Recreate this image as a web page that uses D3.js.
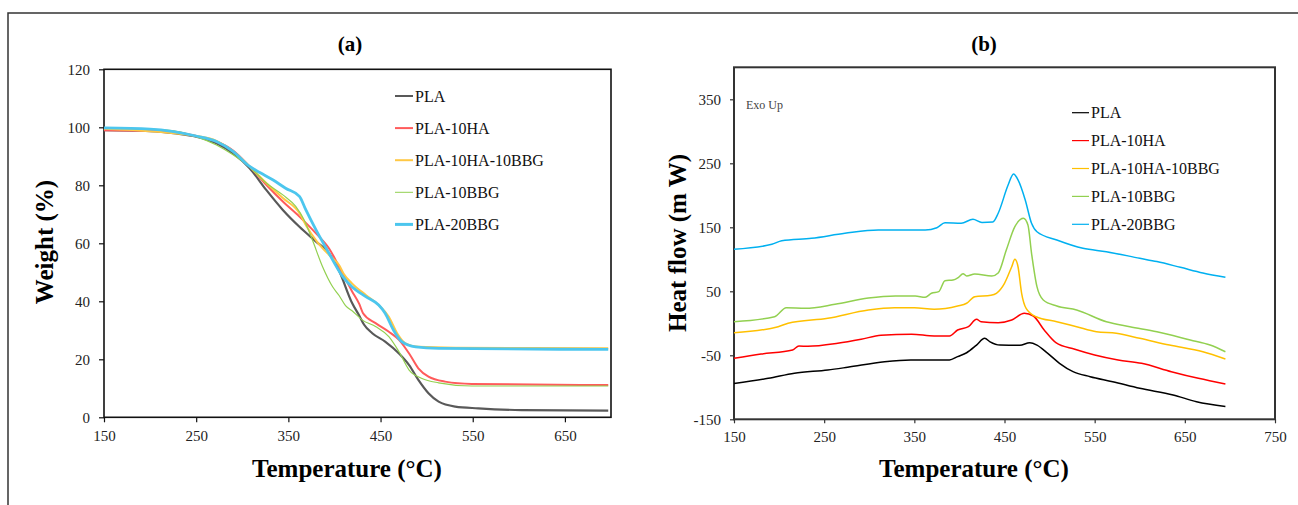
<!DOCTYPE html>
<html lang="en">
<head>
<meta charset="UTF-8">
<title>TGA and DSC</title>
<script src="https://d3js.org/d3.v7.min.js"></script>
<style>
  body { margin: 0; background: #fff; }
  text { font-family: "Liberation Serif", "Times New Roman", serif; }
</style>
</head>
<body>
<script>
// series names (both panels)
const seriesNames = ["PLA", "PLA-10HA", "PLA-10HA-10BBG", "PLA-10BBG", "PLA-20BBG"];

// (a) TGA: [temperature, weight %]
const tgaPLA = [[150,99],[200,98.7],[228,97.9],[250,96.8],[272,94.5],[290,91],[308,85.9],[326,78.4],[344,71.5],[362,65.7],[380,60.6],[394,56.6],[405,50.5],[419,39.5],[427,35],[432,32],[441,29],[455,26.1],[470,22],[481,18],[491,12.9],[502,8.3],[513,5.4],[531,3.7],[556,3.1],[603,2.5],[697,2.3]];
const tga10HA = [[150,99],[218,98.7],[250,97],[272,95.1],[290,92],[308,86.5],[326,80.2],[344,74.4],[362,69.2],[380,63.4],[394,58.3],[405,52],[419,43.5],[427,39],[431,35.9],[445,32.4],[459,29.5],[470,26.7],[481,22],[491,16.9],[502,14],[520,12.3],[549,11.5],[697,11.1]];
const tga10HA10BBG = [[150,99.5],[250,97],[272,95.3],[290,91.7],[308,86.5],[326,80.8],[344,75.6],[362,70.4],[370,65.7],[381,60.6],[396,55.4],[405,52.5],[410,49.5],[419,46.2],[434,42.2],[448,38.7],[459,34.7],[468,29],[477,25.5],[491,24.3],[531,24],[697,23.8]];
const tga10BBG = [[150,99.8],[218,99],[250,96.8],[272,93.9],[290,90.5],[308,86.3],[326,80.8],[344,76.7],[358,72.7],[367,68.1],[376,61.2],[387,52],[398,45],[405,42],[412,38.5],[420,36.5],[430,33.6],[445,31.2],[459,27.8],[470,22.6],[481,16.3],[495,13.4],[513,11.9],[549,10.8],[697,10.8]];
const tga20BBG = [[150,99.8],[200,99.4],[250,97],[272,95.1],[290,91.7],[308,86.5],[319,84.4],[333,81.9],[347,79],[362,76.2],[369,71.5],[380,64.6],[394,56.6],[409,48.5],[419,45],[434,41.6],[448,38.7],[455,35.9],[464,30.1],[473,26.1],[488,24.3],[513,23.8],[697,23.4]];
const tgaXTicks = [150, 250, 350, 450, 550, 650];
const tgaYTicks = [0, 20, 40, 60, 80, 100, 120];

// (b) DSC: [temperature, heat flow mW]
const dscPLA = [[150,-94],[188,-86],[217,-78],[254,-73],[276,-68.7],[317,-60],[346,-57.3],[389,-57.3],[398,-52],[408,-46],[419,-34],[428,-23.4],[434,-29],[445,-34],[467,-34.3],[478,-30.3],[486,-34],[498,-47],[511,-62.5],[526,-75.6],[545,-83.4],[570,-91.2],[600,-101.6],[637,-112],[663,-122.5],[695,-130]];
const dsc10HA = [[150,-54.7],[180,-48],[215,-41.7],[222,-35.5],[232,-36],[265,-31.3],[291,-25],[313,-18.7],[347,-17],[372,-19.8],[389,-19.8],[398,-10.5],[410,-5.3],[419,6.2],[424,2.5],[443,1],[458,5.2],[472,15.6],[482,11.4],[494,-10.5],[507,-30.3],[528,-40.6],[550,-49.5],[576,-57.3],[602,-62.5],[635,-75.6],[665,-86],[695,-94.8]];
const dsc10HA10BBG = [[150,-14.7],[199,-5.3],[210,0],[254,7.8],[299,20.8],[328,24.4],[350,24.4],[372,21.9],[398,27],[408,31.3],[417,41.6],[435,43.8],[441,46.9],[450,62.5],[458,88.4],[461.5,100],[465,88.4],[469,46.9],[474,23.4],[485,10.3],[508,2.5],[530,-5.3],[552,-13.1],[574,-15.6],[600,-23.4],[633,-34],[670,-44.4],[695,-55.8]];
const dsc10BBG = [[150,2.5],[195,10.3],[208,24.4],[229,23.4],[262,29.7],[299,39.5],[329,42.7],[351,42.7],[362,40.6],[369,46.9],[377,49.4],[384,66.6],[393,67.6],[399,71.9],[404,77.5],[408,74],[417,77],[436,74],[443,78.7],[452,114.5],[461.5,151],[471,164],[476,153.6],[480,109.4],[486,57.2],[493,36.4],[508,27],[530,20.8],[563,2.5],[589,-5.3],[619,-13.1],[656,-26.1],[678,-34],[695,-44.4]];
const dsc20BBG = [[150,115.6],[192,123.4],[203,129],[236,132.8],[273,140.6],[310,145.8],[362,145.8],[375,149.4],[384,157.2],[402,156.4],[415,162.5],[425,157.6],[437,158.3],[443,172],[454,216],[460,233.3],[465,224],[473,192.7],[480,156.2],[486,143],[508,130.2],[537,117.2],[563,111.9],[600,101.6],[619,96.4],[645,87.5],[670,78.7],[695,71.9]];
const dscXTicks = [150, 250, 350, 450, 550, 650, 750];
const dscYTicks = [-150, -50, 50, 150, 250, 350];

const tgaColors = ["#595959", "#ff5b5b", "#ffc845", "#92d050", "#4cc6ee"];
const tgaWidths = [2.2, 2, 2, 1.2, 2.8];
const dscColors = ["#000000", "#ff0000", "#ffc000", "#92d050", "#00b0f0"];

const svg = d3.select("body").append("svg").attr("width", 1298).attr("height", 505);

// outer frame
svg.append("path").attr("d", "M8,505 L8,13 L1298,13").attr("fill", "none")
   .attr("stroke", "#333").attr("stroke-width", 1.5);

function drawPanel(o) {
  const g = svg.append("g");
  const x = d3.scaleLinear().domain(o.xDomain).range(o.xRange);
  const y = d3.scaleLinear().domain(o.yDomain).range(o.yRange);

  g.append("rect").attr("x", o.xRange[0]).attr("y", o.yRange[1])
   .attr("width", o.xRange[1] - o.xRange[0]).attr("height", o.yRange[0] - o.yRange[1])
   .attr("fill", "none").attr("stroke", o.frame).attr("stroke-width", o.frameW);

  const xAxis = g.append("g").attr("transform", `translate(0,${o.yRange[0]})`)
    .call(d3.axisBottom(x).tickValues(o.xTicks).tickSize(o.tick).tickSizeOuter(0).tickPadding(8).tickFormat(d => String(d)));
  const yAxis = g.append("g").attr("transform", `translate(${o.xRange[0]},0)`)
    .call(d3.axisLeft(y).tickValues(o.yTicks).tickSize(o.tick).tickSizeOuter(0).tickPadding(9).tickFormat(d => String(d)));
  [xAxis, yAxis].forEach(a => {
    a.select(".domain").remove();
    a.selectAll("line").attr("stroke", o.frame).attr("stroke-width", 1.2);
    a.selectAll("text").attr("font-size", 15).attr("fill", "#222")
      .style("font-family", "'Liberation Serif', serif");
  });

  const line = d3.line().x(d => x(d[0])).y(d => y(d[1])).curve(d3.curveMonotoneX);
  o.data.forEach((s, i) => {
    g.append("path").datum(s).attr("d", line).attr("fill", "none")
     .attr("stroke", o.colors[i]).attr("stroke-width", o.widths[i])
     .attr("stroke-linejoin", "round");
  });

  // legend
  seriesNames.forEach((n, i) => {
    const ly = o.legY + i * o.legStep;
    g.append("line").attr("x1", o.legX).attr("x2", o.legX + o.legLen)
     .attr("y1", ly).attr("y2", ly).attr("stroke", o.colors[i]).attr("stroke-width", o.legW[i]);
    g.append("text").attr("x", o.legX + o.legLen + 2).attr("y", ly).attr("dy", "0.35em")
     .attr("font-size", 16).attr("fill", "#111").text(n);
  });

  g.append("text").attr("x", o.titleX).attr("y", 51).attr("text-anchor", "middle")
   .attr("font-size", 21).attr("font-weight", "bold").text(o.title);
  g.append("text").attr("x", o.xLabX).attr("y", 477).attr("text-anchor", "middle")
   .attr("font-size", 25).attr("font-weight", "bold").text("Temperature (°C)");
  g.append("text").attr("transform", `translate(${o.yLabX},${o.yLabY}) rotate(-90)`)
   .attr("text-anchor", "middle").attr("font-size", 25).attr("font-weight", "bold").text(o.yLabel);
  return { x, y, g };
}

drawPanel({
  xDomain: [150, 700], xRange: [104, 611],
  yDomain: [0, 120], yRange: [417.3, 69.3],
  xTicks: tgaXTicks, yTicks: tgaYTicks, tick: 5,
  frame: "#111", frameW: 1.6,
  data: [tgaPLA, tga10HA, tga10HA10BBG, tga10BBG, tga20BBG],
  colors: tgaColors, widths: tgaWidths,
  legX: 395, legLen: 18, legY: 96, legStep: 32.1, legW: [2, 2, 2, 1, 3],
  title: "(a)", titleX: 350, xLabX: 347, yLabX: 53, yLabY: 242, yLabel: "Weight (%)"
});

const b = drawPanel({
  xDomain: [150, 750], xRange: [734, 1275],
  yDomain: [-150, 400], yRange: [419.3, 67.3],
  xTicks: dscXTicks, yTicks: dscYTicks, tick: 4,
  frame: "#333", frameW: 2,
  data: [dscPLA, dsc10HA, dsc10HA10BBG, dsc10BBG, dsc20BBG],
  colors: dscColors, widths: [1.5, 1.5, 1.5, 1.5, 1.5],
  legX: 1072, legLen: 17, legY: 112.7, legStep: 27.9, legW: [1.2, 1.2, 1.2, 1.2, 1.2],
  title: "(b)", titleX: 984, xLabX: 974, yLabX: 686, yLabY: 243, yLabel: "Heat flow (m W)"
});

b.g.append("text").attr("x", 746).attr("y", 109).attr("font-size", 12)
 .attr("fill", "#444").text("Exo Up");
</script>
</body>
</html>
